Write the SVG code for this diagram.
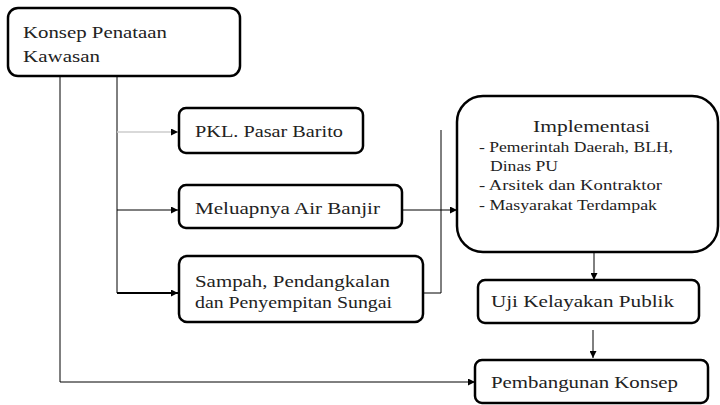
<svg xmlns="http://www.w3.org/2000/svg" width="720" height="405" viewBox="0 0 720 405">
<defs>
<style>
.box{fill:#fff;stroke:#000;stroke-width:2.5}
.t{font-family:"Liberation Serif","Times New Roman",serif;font-size:17px;fill:#222}
.s{font-family:"Liberation Serif","Times New Roman",serif;font-size:14px;fill:#222}
.ln{fill:none;stroke:#000;stroke-width:1}
</style>
<marker id="ah" viewBox="0 0 10 10" refX="10" refY="5" markerWidth="7" markerHeight="7" markerUnits="userSpaceOnUse" orient="auto">
<path d="M0,0 L10,5 L0,10 z" fill="#000"/>
</marker>
</defs>
<rect width="720" height="405" fill="#fff"/>
<g id="connectors">
<path class="ln" d="M60,76 V382 H475" marker-end="url(#ah)"/>
<path class="ln" d="M117,76 V293"/>
<path d="M117,132 H178" fill="none" stroke="#ccc" stroke-width="1.5" marker-end="url(#ah)"/>
<path class="ln" d="M117,210 H178" marker-end="url(#ah)"/>
<path d="M117,293 H178" fill="none" stroke="#000" stroke-width="2" marker-end="url(#ah)"/>
<path class="ln" d="M402,210 H457" marker-end="url(#ah)"/>
<path class="ln" d="M423,293 H441 V130"/>
<path class="ln" d="M594,252 V280" marker-end="url(#ah)"/>
<path class="ln" d="M593,330 V358" marker-end="url(#ah)"/>
</g>
<g id="konsep">
<rect class="box" x="8" y="8" width="232" height="68" rx="10"/>
<text class="t" x="23" y="38" textLength="144" lengthAdjust="spacingAndGlyphs">Konsep Penataan</text>
<text class="t" x="23" y="62" textLength="77" lengthAdjust="spacingAndGlyphs">Kawasan</text>
</g>
<g id="pkl">
<rect class="box" x="179" y="108" width="184" height="45" rx="7"/>
<text class="t" x="195" y="137" textLength="148" lengthAdjust="spacingAndGlyphs">PKL. Pasar Barito</text>
</g>
<g id="banjir">
<rect class="box" x="179" y="185" width="223" height="43" rx="7"/>
<text class="t" x="195" y="214" textLength="185" lengthAdjust="spacingAndGlyphs">Meluapnya Air Banjir</text>
</g>
<g id="sampah">
<rect class="box" x="179" y="256" width="244" height="66" rx="8"/>
<text class="t" x="195" y="287" textLength="195" lengthAdjust="spacingAndGlyphs">Sampah, Pendangkalan</text>
<text class="t" x="195" y="308" textLength="197" lengthAdjust="spacingAndGlyphs">dan Penyempitan Sungai</text>
</g>
<g id="implementasi">
<rect class="box" x="457" y="96" width="261" height="156" rx="26"/>
<text class="t" x="533" y="132" textLength="117" lengthAdjust="spacingAndGlyphs">Implementasi</text>
<text class="s" x="479" y="152" textLength="194" lengthAdjust="spacingAndGlyphs">- Pemerintah Daerah, BLH,</text>
<text class="s" x="490" y="171" textLength="68" lengthAdjust="spacingAndGlyphs">Dinas PU</text>
<text class="s" x="479" y="190" textLength="183" lengthAdjust="spacingAndGlyphs">- Arsitek dan Kontraktor</text>
<text class="s" x="479" y="210" textLength="178" lengthAdjust="spacingAndGlyphs">- Masyarakat Terdampak</text>
</g>
<g id="uji">
<rect class="box" x="478" y="280" width="221" height="43" rx="7"/>
<text class="t" x="491" y="307" textLength="183" lengthAdjust="spacingAndGlyphs">Uji Kelayakan Publik</text>
</g>
<g id="pembangunan">
<rect class="box" x="475" y="360" width="233" height="43" rx="7"/>
<text class="t" x="491" y="388" textLength="187" lengthAdjust="spacingAndGlyphs">Pembangunan Konsep</text>
</g>
</svg>
